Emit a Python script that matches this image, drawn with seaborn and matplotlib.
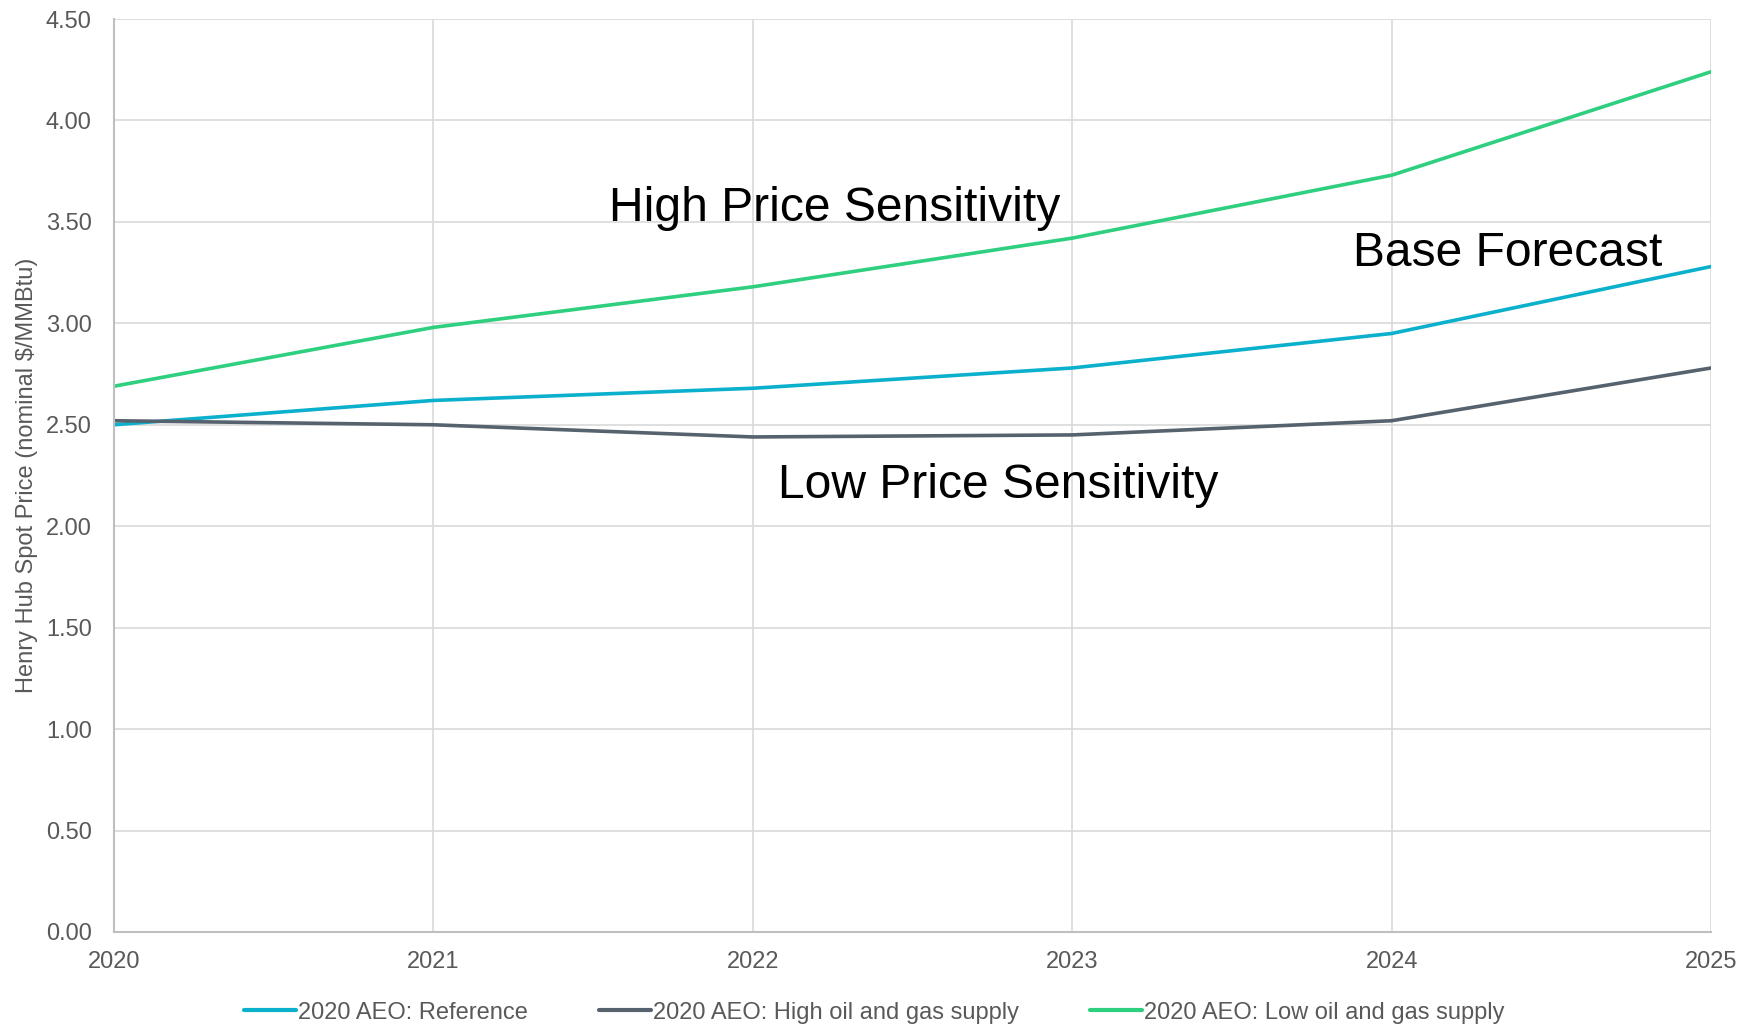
import matplotlib
matplotlib.use("Agg")
import matplotlib.pyplot as plt
import seaborn as sns
import pandas as pd

# values ($/MMBtu)
years = [2020, 2021, 2022, 2023, 2024, 2025]
reference = [2.50, 2.62, 2.68, 2.78, 2.95, 3.28]
high_supply = [2.52, 2.50, 2.44, 2.45, 2.52, 2.78]
low_supply = [2.69, 2.98, 3.18, 3.42, 3.73, 4.24]

series_names = ["2020 AEO: Reference", "2020 AEO: High oil and gas supply",
                "2020 AEO: Low oil and gas supply"]
colors = ["#0bb0cc", "#56636e", "#2ecf7e"]
y_ticks = [0, 0.5, 1, 1.5, 2, 2.5, 3, 3.5, 4, 4.5]

df = pd.concat([
    pd.DataFrame({"Year": years, "Price": vals, "Series": name})
    for name, vals in zip(series_names, [reference, high_supply, low_supply])
])

sns.set_style("white")
plt.rcParams['font.family'] = ['Liberation Sans', 'DejaVu Sans']

fig = plt.figure(figsize=(17.56, 10.28), dpi=100)
ax = fig.add_axes([0.0649, 0.0934, 0.9095, 0.8881])

sns.lineplot(data=df, x="Year", y="Price", hue="Series", hue_order=series_names,
             palette=colors, linewidth=2.6, ax=ax, legend=True)

ax.set_xlim(2020, 2025)
ax.set_ylim(0, 4.5)
ax.set_xticks(years)
ax.set_yticks(y_ticks)
ax.set_yticklabels([f"{v:.2f}" for v in y_ticks])
ax.grid(True, color="#d9d9d9", linewidth=1.2)
ax.tick_params(axis="both", length=0, labelsize=17, colors="#595959")
ax.tick_params(axis="x", pad=14)
ax.tick_params(axis="y", pad=16)
for s in ["top", "right"]:
    ax.spines[s].set_visible(False)
for s in ["left", "bottom"]:
    ax.spines[s].set_color("#bfbfbf")
    ax.spines[s].set_linewidth(1.5)

ax.set_xlabel("")
ax.set_ylabel("Henry Hub Spot Price (nominal $/MMBtu)", fontsize=17, color="#595959", labelpad=6)

ax.text(2021.55, 3.565, "High Price Sensitivity", fontsize=34.6, va="center", ha="left", color="black")
ax.text(2023.88, 3.345, "Base Forecast", fontsize=34.6, va="center", ha="left", color="black")
ax.text(2022.08, 2.20, "Low Price Sensitivity", fontsize=34.6, va="center", ha="left", color="black")

handles, labels = ax.get_legend_handles_labels()
ax.legend_.remove()
leg = fig.legend(handles, labels, loc="center", bbox_to_anchor=(0.498, 0.015), ncol=3,
                 frameon=False, fontsize=17, handlelength=2.2, handletextpad=0.1,
                 columnspacing=3.0)
for t in leg.get_texts():
    t.set_color("#595959")
for h in leg.get_lines():
    h.set_linewidth(3)

fig.savefig("out.png", dpi=100)
